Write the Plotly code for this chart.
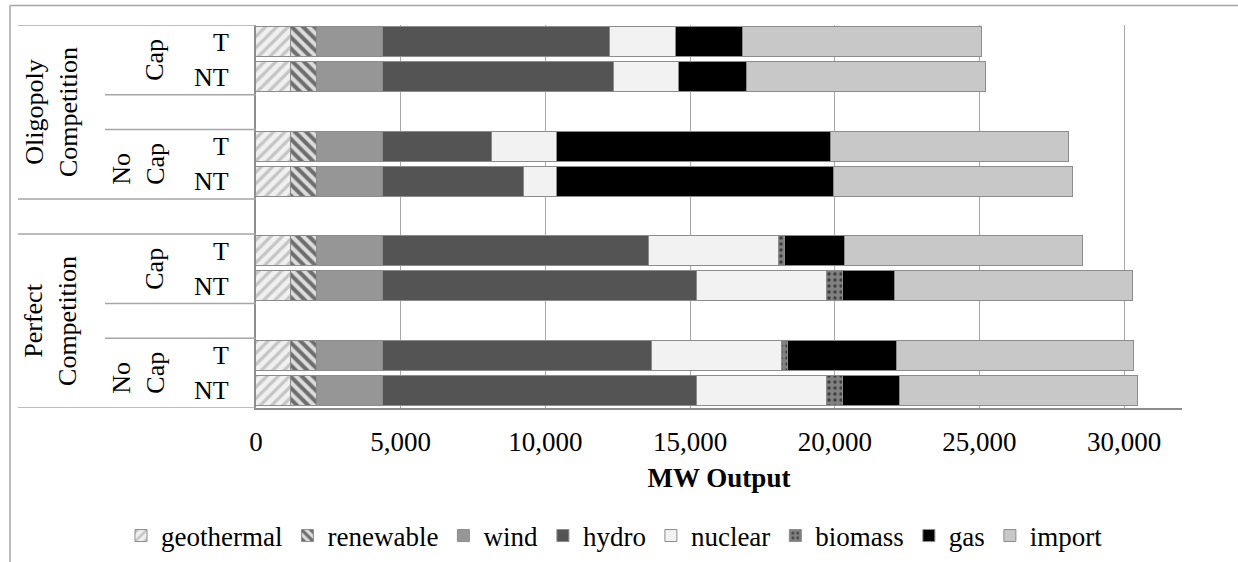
import plotly.graph_objects as go

# ---------------- data ----------------
market = ["Oligopoly Competition", "Perfect Competition"]
cap_group = ["Cap", "No Cap"]
row_labels = ["T", "NT", "T", "NT", "T", "NT", "T", "NT"]
row_slots = [0, 1, 3, 4, 6, 7, 9, 10]   # slot index of each bar (gaps at 2, 5, 8)

series_names = ["geothermal", "renewable", "wind", "hydro", "nuclear", "biomass", "gas", "import"]
geothermal = [1200, 1200, 1200, 1200, 1200, 1200, 1200, 1200]
renewable = [900, 900, 900, 900, 900, 900, 900, 900]
wind = [2280, 2280, 2280, 2280, 2280, 2280, 2280, 2280]
hydro = [7850, 8000, 3770, 4890, 9190, 10850, 9300, 10850]
nuclear = [2300, 2240, 2240, 1140, 4500, 4490, 4500, 4490]
biomass = [0, 0, 0, 0, 200, 550, 200, 550]
gas = [2300, 2340, 9470, 9570, 2100, 1820, 3760, 2000]
imports = [8250, 8250, 8250, 8250, 8200, 8210, 8210, 8210]

x_ticks = [0, 5000, 10000, 15000, 20000, 25000, 30000]
x_tick_text = ["0", "5,000", "10,000", "15,000", "20,000", "25,000", "30,000"]

# ---------------- styling ----------------
FONT = "Liberation Serif, Times New Roman, serif"
W, H = 1238, 562
ML, MR, MT, MB = 256, 56, 25, 154
PW, PH = W - ML - MR, H - MT - MB


def px(xp):
    return (xp - ML) / PW


def py(yp):
    return (H - MB - yp) / PH


edge = "#8c8c8c"
styles = {
    "geothermal": dict(color="#f0f0f0", pattern=dict(shape="/", fgcolor="#9a9a9a", bgcolor="#f0f0f0", size=8, solidity=0.4)),
    "renewable": dict(color="#d9d9d9", pattern=dict(shape="\\", fgcolor="#000000", bgcolor="#dcdcdc", size=8, solidity=0.5)),
    "wind": dict(color="#969696"),
    "hydro": dict(color="#545454"),
    "nuclear": dict(color="#f2f2f2"),
    "biomass": dict(color="#808080", pattern=dict(shape=".", fgcolor="#000000", bgcolor="#808080", size=6, solidity=0.25)),
    "gas": dict(color="#000000"),
    "import": dict(color="#c8c8c8"),
}

values = [geothermal, renewable, wind, hydro, nuclear, biomass, gas, imports]

fig = go.Figure()
for name, vals in zip(series_names, values):
    st = styles[name]
    marker = dict(color=st["color"], line=dict(color=edge, width=1))
    if "pattern" in st:
        marker["pattern"] = st["pattern"]
    fig.add_trace(go.Bar(
        name=name, x=vals, y=row_slots, orientation="h",
        marker=marker, width=0.86,
    ))

# ---------------- category labels (multi-level axis) ----------------
ann = []
for slot, lab in zip(row_slots, row_labels):
    ann.append(dict(text=lab, xref="paper", yref="y", x=px(231), y=slot,
                    xanchor="right", yanchor="middle", showarrow=False,
                    font=dict(family=FONT, size=26, color="black")))

cap_pos = [(0.5, "Cap", 155), (3.5, "No<br>Cap", 138.5), (6.5, "Cap", 155), (9.5, "No<br>Cap", 138.5)]
for yc, lab, xc in cap_pos:
    ann.append(dict(text=lab, xref="paper", yref="y", x=px(xc), y=yc,
                    xanchor="center", yanchor="middle", showarrow=False, textangle=-90,
                    align="left", font=dict(family=FONT, size=26, color="black")))

for yc, lab in [(2, "Oligopoly<br>Competition"), (8, "Perfect<br>Competition")]:
    ann.append(dict(text=lab, xref="paper", yref="y", x=px(51), y=yc,
                    xanchor="center", yanchor="middle", showarrow=False, textangle=-90,
                    align="center", font=dict(family=FONT, size=26, color="black")))

# separator lines in the category area
shapes = []
line_col = "#a6a6a6"
sep = [(-0.5, 18), (1.5, 105), (2.5, 105), (4.5, 18), (5.5, 18), (7.5, 105), (8.5, 105), (10.5, 18)]
for yv, x0 in sep:
    shapes.append(dict(type="line", xref="paper", yref="y", x0=px(x0), x1=px(ML), y0=yv, y1=yv,
                       line=dict(color=line_col, width=1.5)))

# chart border (extends past the visible page)
shapes.append(dict(type="line", xref="paper", yref="paper", x0=px(10), x1=px(1240), y0=py(5.5), y1=py(5.5),
                   line=dict(color="#a6a6a6", width=1.5)))
shapes.append(dict(type="line", xref="paper", yref="paper", x0=px(10), x1=px(10), y0=py(5.5), y1=py(562),
                   line=dict(color="#a6a6a6", width=1.5)))

fig.update_layout(
    width=W, height=H,
    margin=dict(l=ML, r=MR, t=MT, b=MB, autoexpand=False),
    barmode="stack", bargap=0,
    plot_bgcolor="white", paper_bgcolor="white",
    font=dict(family=FONT, size=27, color="black"),
    showlegend=True,
    legend=dict(orientation="h", x=px(121), xanchor="left", y=py(536), yanchor="middle",
                font=dict(family=FONT, size=27, color="black"), bgcolor="rgba(0,0,0,0)",
                traceorder="normal", itemclick=False, itemdoubleclick=False),
    annotations=ann,
    shapes=shapes,
    xaxis=dict(range=[0, 32000], tickvals=x_ticks, ticktext=x_tick_text,
               showgrid=True, gridcolor="#a6a6a6", gridwidth=1, zeroline=False,
               showline=True, linecolor="#8c8c8c", linewidth=2, ticks="",
               automargin=False, ticklabelstandoff=9,
               tickfont=dict(family=FONT, size=27, color="black"),
               title=dict(text="<b>MW Output</b>", font=dict(family=FONT, size=27, color="black"), standoff=12)),
    yaxis=dict(range=[10.5, -0.5], showticklabels=False, showgrid=False, zeroline=False,
               automargin=False,
               showline=True, linecolor="#8c8c8c", linewidth=1.5, ticks=""),
)

fig.write_html("out.html")
